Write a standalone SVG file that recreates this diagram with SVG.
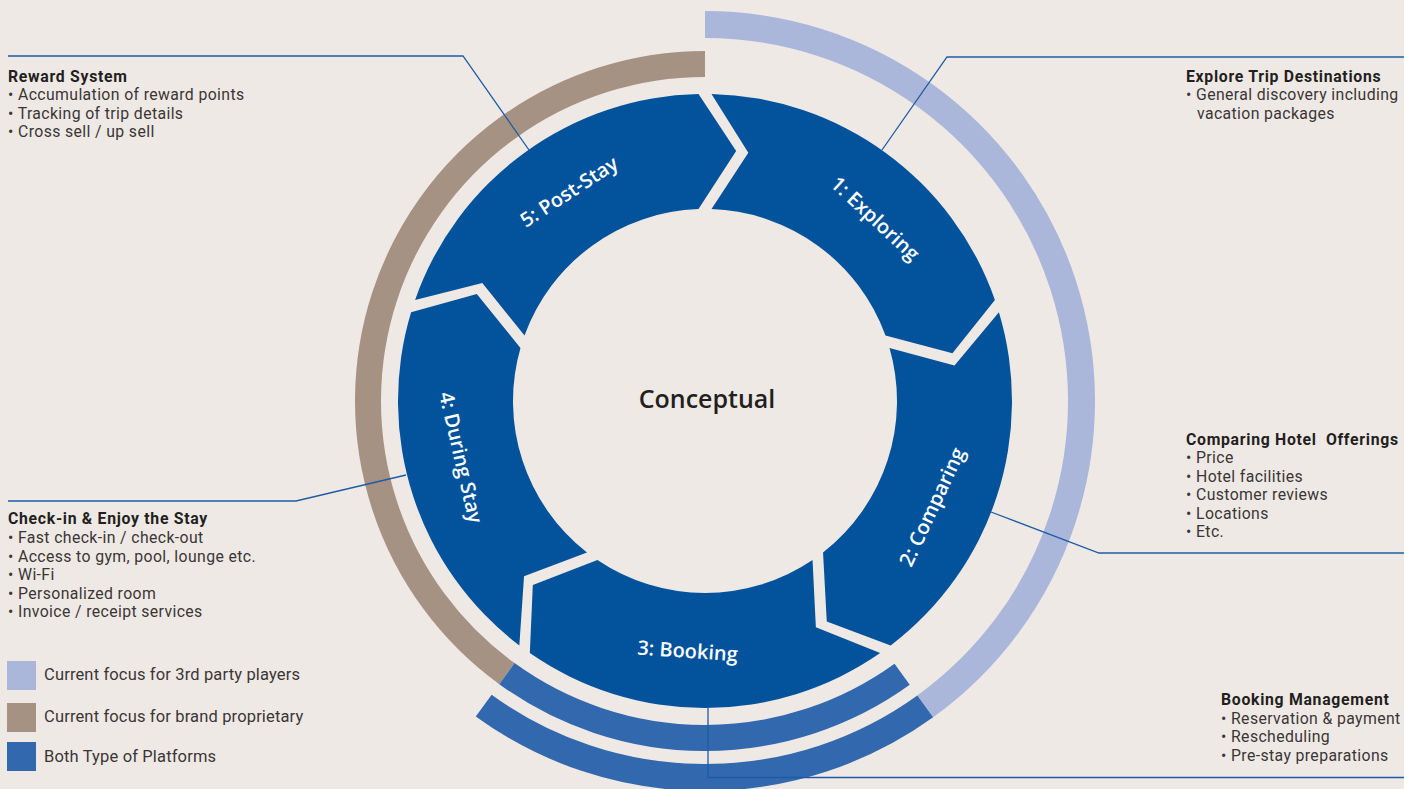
<svg xmlns="http://www.w3.org/2000/svg" xmlns:xlink="http://www.w3.org/1999/xlink" width="1404" height="789" viewBox="0 0 1404 789">
<style>
.seg{fill:#02539C}
.lbl{fill:#FFFFFF;font-family:"Open Sans","Noto Sans",sans-serif;font-size:20px;font-weight:600;text-anchor:middle;dominant-baseline:central}
.h{fill:#231F20;font-family:Roboto,"Liberation Sans",sans-serif;font-size:15.8px;font-weight:bold;letter-spacing:0.7px}
.t{fill:#3A3636;font-family:Roboto,"Liberation Sans",sans-serif;font-size:15.8px;letter-spacing:0.38px}
.lg{fill:#3A3636;font-family:Roboto,"Liberation Sans",sans-serif;font-size:16.5px;letter-spacing:0.15px}
.ring{fill:none;stroke-linecap:butt}
.conn{fill:none;stroke:#1E5BA6;stroke-width:1.3}
</style>
<defs>
<path id="segshape" d="M711.48,94.07 A307,307 0 0 1 994.91,299.99 L952.45,353.35 L885.49,335.53 A192,192 0 0 0 711.50,209.11 L748.33,152.75 Z"/>
</defs>
<rect x="0" y="0" width="1404" height="789" fill="#EFE9E5"/>
<g id="rings">
<path class="ring" d="M705,24.5 A376.5,376.5 0 0 1 925.24,706.36" stroke="#AAB7DB" stroke-width="27"/>
<path class="ring" d="M506.92,673.64 A337,337 0 0 1 705,64" stroke="#A69283" stroke-width="26"/>
<path class="ring" d="M902.13,674.33 A337,337 0 0 1 506.92,673.64" stroke="#3268AD" stroke-width="26"/>
<path class="ring" d="M925.24,706.36 A376.5,376.5 0 0 1 483.70,705.60" stroke="#3268AD" stroke-width="27"/>
</g>
<g id="node-exploring">
<use xlink:href="#segshape" href="#segshape" class="seg"/>
<text class="lbl" transform="translate(875.5,218.2) rotate(43)">1: Exploring</text>
</g>
<g id="node-comparing">
<use xlink:href="#segshape" href="#segshape" class="seg" transform="rotate(72 705 401)"/>
<text class="lbl" transform="translate(931.6,506.7) rotate(-65)">2: Comparing</text>
</g>
<g id="node-booking">
<use xlink:href="#segshape" href="#segshape" class="seg" transform="rotate(144 705 401)"/>
<text class="lbl" transform="translate(687.6,650.4) rotate(4)">3: Booking</text>
</g>
<g id="node-during-stay">
<use xlink:href="#segshape" href="#segshape" class="seg" transform="rotate(216 705 401)"/>
<text class="lbl" transform="translate(461.4,457.2) rotate(77)">4: During Stay</text>
</g>
<g id="node-post-stay">
<use xlink:href="#segshape" href="#segshape" class="seg" transform="rotate(288 705 401)"/>
<text class="lbl" transform="translate(568.8,191.3) rotate(-33)">5: Post-Stay</text>
</g>
<g id="node-center">
<text x="707" y="398" fill="#231F20" font-family="Open Sans, Noto Sans, sans-serif" font-size="25" font-weight="600" text-anchor="middle" dominant-baseline="central">Conceptual</text>
</g>
<g id="connectors">
<polyline class="conn" points="8,56 463,56 529,150"/>
<polyline class="conn" points="882,150 947,57 1404,57"/>
<polyline class="conn" points="991,512 1099,553 1404,553"/>
<polyline class="conn" points="708,708 708,777.5 1404,777.5"/>
<polyline class="conn" points="406,475 296,501 8,501"/>
</g>
<g id="note-reward">
<text class="h" x="8" y="82">Reward System</text>
<text class="t" x="8" y="100">• Accumulation of reward points</text>
<text class="t" x="8" y="118.5">• Tracking of trip details</text>
<text class="t" x="8" y="137">• Cross sell / up sell</text>
</g>
<g id="note-explore">
<text class="h" x="1186" y="82">Explore Trip Destinations</text>
<text class="t" x="1186" y="100">• General discovery including</text>
<text class="t" x="1197" y="118.5">vacation packages</text>
</g>
<g id="note-comparing">
<text class="h" x="1186" y="444.5">Comparing Hotel&#160; Offerings</text>
<text class="t" x="1186" y="463">• Price</text>
<text class="t" x="1186" y="481.5">• Hotel facilities</text>
<text class="t" x="1186" y="500">• Customer reviews</text>
<text class="t" x="1186" y="518.5">• Locations</text>
<text class="t" x="1186" y="537">• Etc.</text>
</g>
<g id="note-booking">
<text class="h" x="1221" y="705">Booking Management</text>
<text class="t" x="1221" y="723.5">• Reservation &amp; payment</text>
<text class="t" x="1221" y="742">• Rescheduling</text>
<text class="t" x="1221" y="760.5">• Pre-stay preparations</text>
</g>
<g id="note-checkin">
<text class="h" x="8" y="524">Check-in &amp; Enjoy the Stay</text>
<text class="t" x="8" y="543">• Fast check-in / check-out</text>
<text class="t" x="8" y="561.5">• Access to gym, pool, lounge etc.</text>
<text class="t" x="8" y="580">• Wi-Fi</text>
<text class="t" x="8" y="598.5">• Personalized room</text>
<text class="t" x="8" y="617">• Invoice / receipt services</text>
</g>
<g id="legend">
<rect x="7" y="661" width="29" height="29" fill="#AAB7DB"/>
<text class="lg" x="44" y="680">Current focus for 3rd party players</text>
<rect x="7" y="703" width="29" height="29" fill="#A69283"/>
<text class="lg" x="44" y="722">Current focus for brand proprietary</text>
<rect x="7" y="742" width="29" height="29" fill="#3268AD"/>
<text class="lg" x="44" y="762">Both Type of Platforms</text>
</g>
</svg>
